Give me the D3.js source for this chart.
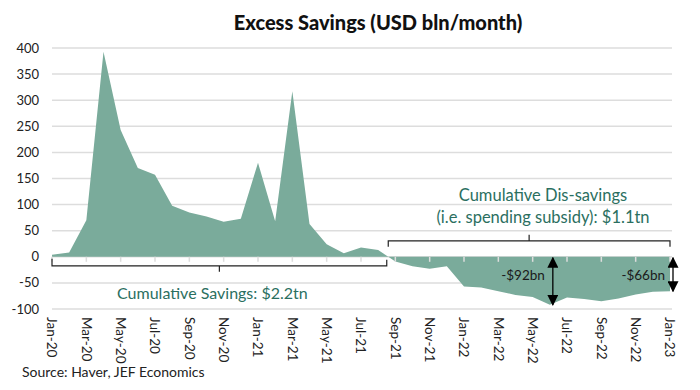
<!DOCTYPE html>
<html><head><meta charset="utf-8">
<script src="https://cdn.jsdelivr.net/npm/d3@7"></script>
<style>body{margin:0;background:#fff}svg{display:block}</style>
</head><body>
<svg id="c" width="700" height="390"></svg>
<script>
const categories = ["Jan-20","Feb-20","Mar-20","Apr-20","May-20","Jun-20","Jul-20","Aug-20","Sep-20","Oct-20","Nov-20","Dec-20",
  "Jan-21","Feb-21","Mar-21","Apr-21","May-21","Jun-21","Jul-21","Aug-21","Sep-21","Oct-21","Nov-21","Dec-21",
  "Jan-22","Feb-22","Mar-22","Apr-22","May-22","Jun-22","Jul-22","Aug-22","Sep-22","Oct-22","Nov-22","Dec-22","Jan-23"];
const excessSavings = [4, 8, 70, 393, 243, 170, 157, 98, 85, 77, 67, 73,
  180, 68, 317, 63, 24, 7, 18, 13, -9, -18, -23, -18,
  -57, -59, -66, -73, -77, -92, -78, -81, -85, -80, -72, -67, -66];
const yTicks = [-100, -50, 0, 50, 100, 150, 200, 250, 300, 350, 400];
const xTickLabels = categories.filter((d, i) => i % 2 === 0);
const titleText = "Excess Savings (USD bln/month)";
const savingsLabel = "Cumulative Savings: $2.2tn";
const dissavingsLabel = ["Cumulative Dis-savings", "(i.e. spending subsidy): $1.1tn"];
const arrowNotes = [{cat: "Jun-22", label: "-$92bn"}, {cat: "Jan-23", label: "-$66bn"}];
const sourceText = "Source: Haver, JEF Economics";

const svg = d3.select("#c");
const font = "Lato, 'Open Sans', sans-serif";
const areaColor = "#7aab9b";
const noteColor = "#2b6f5f";
const gridColor = "#dddddd";

const x = d3.scalePoint().domain(categories).range([52, 670]);
const y = d3.scaleLinear().domain([-100, 400]).range([309, 48]);
const step = x.step();

// grid
svg.append("g").selectAll("line").data(yTicks).join("line")
  .attr("x1", 52).attr("x2", 672)
  .attr("y1", d => y(d)).attr("y2", d => y(d))
  .attr("stroke", gridColor).attr("stroke-width", 1.5);

// y labels
svg.append("g").selectAll("text").data(yTicks).join("text")
  .attr("x", 39).attr("y", d => y(d)).attr("dy", "0.35em")
  .attr("text-anchor", "end").attr("font-family", font).attr("font-size", 13)
  .attr("fill", "#222").text(d => d);

// area
const data = categories.map((c, i) => ({c, v: excessSavings[i]}));
svg.append("path").datum(data)
  .attr("d", d3.area().x(d => x(d.c)).y0(y(0)).y1(d => y(d.v)))
  .attr("fill", areaColor);

// zero axis ticks
svg.append("g").selectAll("line").data(xTickLabels).join("line")
  .attr("x1", d => x(d)).attr("x2", d => x(d))
  .attr("y1", y(0)).attr("y2", y(0) + 5)
  .attr("stroke", gridColor).attr("stroke-width", 1.5);

// x labels rotated
svg.append("g").selectAll("text").data(xTickLabels).join("text")
  .attr("transform", d => `translate(${x(d)},317) rotate(90)`)
  .attr("dy", "0.35em").attr("font-family", font).attr("font-size", 13.5)
  .attr("fill", "#222").text(d => d);

// title
svg.append("text").attr("x", 378).attr("y", 30).attr("text-anchor", "middle")
  .attr("font-family", font).attr("font-weight", 900).attr("font-size", 20)
  .attr("fill", "#111").text(titleText);

// bracket under savings
const b1L = x(categories[0]), b1R = x("Aug-21") + step / 2;
const b1Y = y(0) + 9, b1M = (b1L + b1R) / 2;
svg.append("path")
  .attr("d", `M${b1L},${y(0) + 2}V${b1Y}H${b1R}V${b1Y - 6}M${b1M},${b1Y}V${b1Y + 6}`)
  .attr("fill", "none").attr("stroke", "#222").attr("stroke-width", 1.2);
svg.append("text").attr("x", b1M - 7).attr("y", 293).attr("dy", "0.35em")
  .attr("text-anchor", "middle").attr("font-family", font).attr("font-size", 16)
  .attr("fill", noteColor).text(savingsLabel);

// bracket above dis-savings
const b2L = b1R + 1.5, b2R = x(categories[categories.length - 1]);
const b2Y = y(0) - 16, b2M = (b2L + b2R) / 2;
svg.append("path")
  .attr("d", `M${b2L},${b2Y + 6}V${b2Y}H${b2R}V${b2Y + 6}M${b2M},${b2Y}V${b2Y - 6}`)
  .attr("fill", "none").attr("stroke", "#222").attr("stroke-width", 1.2);
svg.append("g").selectAll("text").data(dissavingsLabel).join("text")
  .attr("x", 543).attr("y", (d, i) => 195 + i * 22).attr("dy", "0.35em")
  .attr("text-anchor", "middle").attr("font-family", font).attr("font-size", 16.5)
  .attr("fill", noteColor).text(d => d);

// arrows
const defs = svg.append("defs");
defs.append("marker").attr("id", "ah").attr("viewBox", "0 0 10 10")
  .attr("refX", 9).attr("refY", 5).attr("markerWidth", 11).attr("markerHeight", 11)
  .attr("markerUnits", "userSpaceOnUse").attr("orient", "auto-start-reverse")
  .append("path").attr("d", "M0,0L10,5L0,10Z").attr("fill", "#000");
arrowNotes.forEach(n => {
  const v = excessSavings[categories.indexOf(n.cat)];
  const ax = x(n.cat) + 3;
  svg.append("line").attr("x1", ax).attr("x2", ax)
    .attr("y1", y(0) + 1).attr("y2", y(v))
    .attr("stroke", "#000").attr("stroke-width", 1.3)
    .attr("marker-start", "url(#ah)").attr("marker-end", "url(#ah)");
  svg.append("text").attr("x", ax - 8).attr("y", 275).attr("dy", "0.35em")
    .attr("text-anchor", "end").attr("font-family", font).attr("font-size", 13.5)
    .attr("fill", "#1a1a1a").text(n.label);
});

// source
svg.append("text").attr("x", 22).attr("y", 372).attr("dy", "0.35em")
  .attr("font-family", font).attr("font-size", 14).attr("fill", "#222").text(sourceText);
</script>
</body></html>
